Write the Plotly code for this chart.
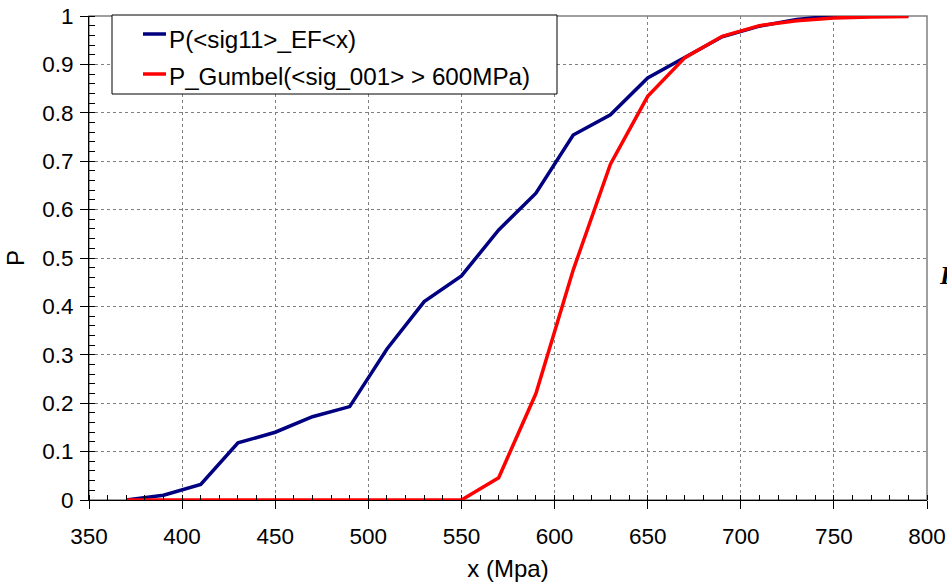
import plotly.graph_objects as go

# ---- data ----
x_vals = [370, 390, 410, 430, 450, 470, 490, 510, 530, 550, 570, 590, 610, 630, 650, 670, 690, 710, 730, 750, 770, 790]
p_ef = [0.0, 0.01, 0.032, 0.118, 0.14, 0.172, 0.193, 0.312, 0.41, 0.463, 0.558, 0.634, 0.754, 0.796, 0.872, 0.914, 0.957, 0.979, 0.993, 1.0, 1.0, 1.0]
p_gumbel = [0.0, 0.0, 0.0, 0.0, 0.0, 0.0, 0.0, 0.0, 0.0, 0.0, 0.046, 0.22, 0.475, 0.694, 0.834, 0.914, 0.958, 0.98, 0.99, 0.996, 0.998, 0.999]
series_names = ["P(<sig11>_EF<x)", "P_Gumbel(<sig_001> > 600MPa)"]
series_colors = ["#000080", "#FF0000"]
x_title = "x (Mpa)"
y_title = "P"

W, H = 947, 582
L, R, T, B = 89, 20, 16, 82
pw, ph = W - L - R, H - T - B


def px_x(p):
    return (p - L) / pw


def px_y(p):
    return (H - B - p) / ph


FONT = "Liberation Sans, Arial, sans-serif"

fig = go.Figure()
for ys, name, col in zip([p_ef, p_gumbel], series_names, series_colors):
    fig.add_trace(go.Scatter(x=x_vals, y=ys, mode="lines", name=name,
                             line=dict(color=col, width=3.5), showlegend=False))

axis_common = dict(
    showgrid=True, gridcolor="#808080", griddash="dot", gridwidth=1,
    showline=True, linecolor="black", linewidth=1,
    ticks="outside", ticklen=8, tickcolor="black", tickwidth=1,
    tickfont=dict(family=FONT, size=22.5, color="black"),
    zeroline=False, automargin=False,
)

fig.update_xaxes(range=[350, 800], tick0=350, dtick=50, ticklabelstandoff=8,
                 minor=dict(dtick=10, ticks="inside", ticklen=5, tickcolor="black", showgrid=False),
                 title=dict(text=x_title, font=dict(family=FONT, size=24, color="black"), standoff=14),
                 **axis_common)
fig.update_yaxes(range=[0, 1], tick0=0, dtick=0.1, ticklabelstandoff=2,
                 minor=dict(dtick=0.02, ticks="inside", ticklen=6, tickcolor="black", showgrid=False),
                 title=dict(text=y_title, font=dict(family=FONT, size=24, color="black"), standoff=10),
                 **axis_common)

shapes = [
    # plot frame (gray top/right)
    dict(type="rect", xref="paper", yref="paper", x0=0, x1=1, y0=0, y1=1,
         line=dict(color="#808080", width=1.5), layer="below"),
    # legend box
    dict(type="rect", xref="paper", yref="paper", x0=px_x(112), x1=px_x(557),
         y0=px_y(94), y1=px_y(15), line=dict(color="black", width=1),
         fillcolor="white", layer="above"),
]
annotations = []
for i, (name, col) in enumerate(zip(series_names, series_colors)):
    ly = 34 + 40 * i
    ty = 39 + 38 * i
    shapes.append(dict(type="line", xref="paper", yref="paper", x0=px_x(143), x1=px_x(166),
                       y0=px_y(ly), y1=px_y(ly), line=dict(color=col, width=3.5), layer="above"))
    annotations.append(dict(text=name, xref="paper", yref="paper", x=px_x(167), y=px_y(ty),
                            xanchor="left", yanchor="middle", showarrow=False,
                            font=dict(family=FONT, size=24.2, color="black")))

# stray cut-off glyph at right edge (as in the reference)
annotations.append(dict(text="<b><i>P</i></b>", xref="paper", yref="paper", x=px_x(937), y=px_y(275),
                        xanchor="left", yanchor="middle", showarrow=False,
                        font=dict(family="Liberation Serif, Times New Roman, serif", size=26, color="black")))

fig.update_layout(
    width=W, height=H,
    margin=dict(l=L, r=R, t=T, b=B, autoexpand=False),
    paper_bgcolor="white", plot_bgcolor="white",
    shapes=shapes, annotations=annotations,
    showlegend=False,
)

fig.write_html("out.html")
